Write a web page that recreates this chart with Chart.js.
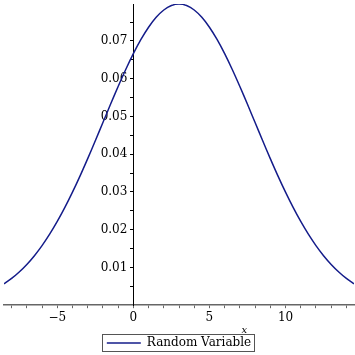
<!DOCTYPE html>
<html>
<head>
<meta charset="utf-8">
<script src="https://cdn.jsdelivr.net/npm/chart.js@4"></script>
<style>
  html, body { margin: 0; padding: 0; background: #fff; }
  #wrap { width: 355px; height: 355px; }
</style>
</head>
<body>
<div id="wrap"><canvas id="chart"></canvas></div>
<script>
// x positions and density values
const xValues = [
  -8.5, -8, -7.5, -7, -6.5, -6, -5.5, -5, -4.5, -4, -3.5, -3, -2.5, -2, -1.5, -1,
  -0.5, 0, 0.5, 1, 1.5, 2, 2.5, 3, 3.5, 4, 4.5, 5, 5.5, 6, 6.5, 7, 7.5, 8, 8.5,
  9, 9.5, 10, 10.5, 11, 11.5, 12, 12.5, 13, 13.5, 14, 14.5
];
const density = [
  0.00567, 0.00709, 0.00880, 0.01080, 0.01312, 0.01579, 0.01881, 0.02218, 0.02590,
  0.02995, 0.03427, 0.03884, 0.04357, 0.04839, 0.05322, 0.05794, 0.06245, 0.06664,
  0.07041, 0.07365, 0.07628, 0.07821, 0.07939, 0.07979, 0.07939, 0.07821, 0.07628,
  0.07365, 0.07041, 0.06664, 0.06245, 0.05794, 0.05322, 0.04839, 0.04357, 0.03884,
  0.03427, 0.02995, 0.02590, 0.02218, 0.01881, 0.01579, 0.01312, 0.01080, 0.00880,
  0.00709, 0.00567
];
// tick marks (labels only on -5, 0, 5, 10 and on 0.01 .. 0.07)
const xTicks = [-8, -7, -6, -5, -4, -3, -2, -1, 0, 1, 2, 3, 4, 5, 6, 7, 8, 9, 10, 11, 12, 13, 14];
const xLabelled = [-5, 0, 5, 10];
const yTicks = [0.005, 0.01, 0.015, 0.02, 0.025, 0.03, 0.035, 0.04, 0.045, 0.05, 0.055, 0.06, 0.065, 0.07, 0.075];
const yLabelled = [0.01, 0.02, 0.03, 0.04, 0.05, 0.06, 0.07];
const seriesName = 'Random Variable';
const xTitle = 'x';

const FONT = { family: '"DejaVu Serif", serif', size: 12 };
const LINE_COLOR = '#141c8a';

const hasValue = (list, v) => list.some(t => Math.abs(t - v) < 1e-9);

// box around the legend + the small italic axis name
const extras = {
  id: 'extras',
  afterDraw(chart) {
    const ctx = chart.ctx;
    const boxes = chart.legend && chart.legend.legendHitBoxes;
    if (boxes && boxes.length) {
      const b = boxes[0];
      ctx.save();
      ctx.strokeStyle = '#555';
      ctx.lineWidth = 1;
      ctx.strokeRect(Math.round(b.left) - 4.5, Math.round(b.top) - 2.5, Math.round(b.width) + 8, Math.round(b.height) + 5);
      ctx.restore();
    }
    ctx.save();
    ctx.font = 'italic 10px "DejaVu Serif", serif';
    ctx.fillStyle = '#000';
    ctx.textAlign = 'center';
    ctx.textBaseline = 'middle';
    ctx.fillText(xTitle, chart.scales.x.getPixelForValue(7.3), chart.chartArea.bottom + 25);
    ctx.restore();
  }
};

new Chart(document.getElementById('chart'), {
  type: 'line',
  data: {
    datasets: [{
      label: seriesName,
      data: xValues.map((x, i) => ({ x: x, y: density[i] })),
      borderColor: LINE_COLOR,
      backgroundColor: LINE_COLOR,
      borderWidth: 1.5,
      pointRadius: 0,
      tension: 0.3,
      fill: false
    }]
  },
  options: {
    responsive: true,
    maintainAspectRatio: false,
    animation: false,
    layout: { padding: { left: 4, right: 1, top: 4, bottom: -4 } },
    plugins: {
      tooltip: { enabled: false },
      legend: {
        position: 'bottom',
        labels: {
          usePointStyle: true,
          pointStyle: 'line',
          pointStyleWidth: 34,
          color: '#000',
          font: FONT,
          padding: 2
        }
      }
    },
    scales: {
      x: {
        type: 'linear',
        position: 'bottom',
        min: xValues[0],
        max: xValues[xValues.length - 1],
        afterBuildTicks(scale) {
          scale.ticks = xTicks.map(v => ({ value: v }));
        },
        ticks: {
          autoSkip: false,
          maxRotation: 0,
          color: '#000',
          font: FONT,
          padding: 2,
          callback: v => hasValue(xLabelled, v) ? (v < 0 ? '\u2212' + Math.abs(v) : String(v)) : ''
        },
        title: { display: true, text: ' ', font: { size: 7 }, padding: 0 },
        grid: { drawOnChartArea: false, drawTicks: true, tickLength: 3, color: '#666' },
        border: { display: true, color: '#666', width: 1.5 }
      },
      y: {
        type: 'linear',
        position: { x: 0 },
        min: 0,
        max: 0.0798,
        afterBuildTicks(scale) {
          scale.ticks = yTicks.map(v => ({ value: v }));
        },
        afterFit(scale) {
          scale.paddingTop = 0;
          scale.paddingBottom = 0;
        },
        ticks: {
          autoSkip: false,
          color: '#000',
          font: FONT,
          callback: v => hasValue(yLabelled, v) ? v.toFixed(2) + '\u2002' : ''
        },
        grid: { drawOnChartArea: false, drawTicks: true, tickLength: 3, color: '#000' },
        border: { display: true, color: '#000', width: 1 }
      }
    }
  },
  plugins: [extras]
});
</script>
</body>
</html>
